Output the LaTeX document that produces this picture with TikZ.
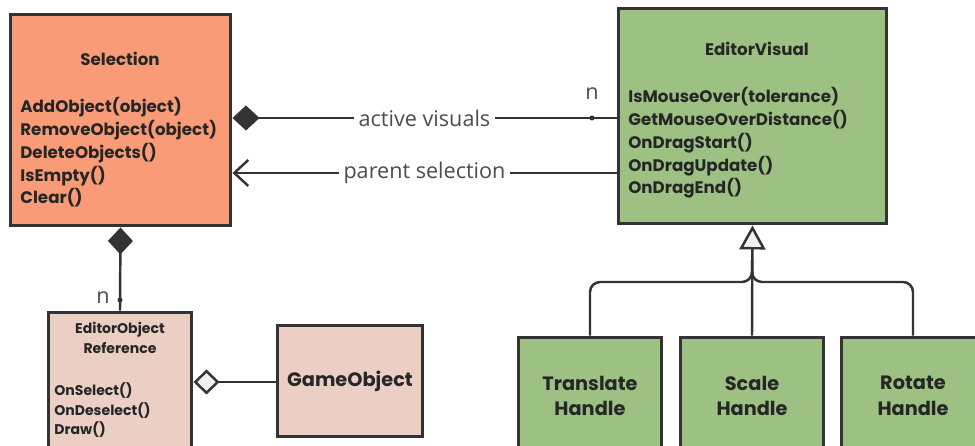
\documentclass[tikz,border=0pt]{standalone}
\usepackage{fontspec}
\setmainfont{Poppins}
\newfontfamily\lblfont{Open Sans}
\usetikzlibrary{arrows.meta, positioning, calc}
\definecolor{selfill}{HTML}{F89B76}
\definecolor{visfill}{HTML}{9DC183}
\definecolor{reffill}{HTML}{EBCFC5}
\definecolor{linecol}{HTML}{333333}
\definecolor{txtcol}{HTML}{262626}
\definecolor{lblcol}{HTML}{4D4D4D}
\begin{document}
\begin{tikzpicture}[
  x=0.02cm, y=-0.02cm,
  box/.style={draw=linecol, line width=1.7pt, inner sep=0pt},
  title/.style={font=\bfseries\fontsize{9.5}{12}\selectfont, text=txtcol, align=center, inner sep=0pt},
  meth/.style={font=\bfseries\fontsize{9.5}{13}\selectfont, text=txtcol, align=left, inner sep=0pt, anchor=north west},
  small/.style={font=\bfseries\fontsize{8}{11.3}\selectfont, text=txtcol, inner sep=0pt},
  big/.style={font=\bfseries\fontsize{11}{14.7}\selectfont, text=txtcol, align=center, inner sep=0pt},
  conn/.style={draw=linecol, line width=1.4pt},
  lbl/.style={font=\lblfont\fontsize{12.3}{14}\selectfont, text=lblcol, fill=white, inner sep=2.5pt},
  card/.style={font=\lblfont\fontsize{12.3}{14}\selectfont, text=lblcol, inner sep=0pt},
  comp/.style={conn, {Diamond[length=0.54cm, width=0.5cm, fill=linecol]}-},
  agg/.style={conn, {Diamond[length=0.52cm, width=0.5cm, fill=black!6]}-},
  nav/.style={conn, {Straight Barb[length=0.28cm, width=0.52cm]}-},
  inh/.style={conn, -{Triangle[length=0.48cm, width=0.52cm, fill=black!6]}}
]
\clip (0,0) rectangle (975,446);
\fill[white] (0,0) rectangle (975,446);

\node[box, fill=selfill, minimum width=4.42cm, minimum height=4.24cm] (sel) at (120.5,120) {};
\node[title] (selT) at (120,59) {Selection};
\node[meth] (selM) at (20,97) {AddObject(object)\\RemoveObject(object)\\DeleteObjects()\\IsEmpty()\\Clear()};

\node[box, fill=visfill, minimum width=5.38cm, minimum height=4.32cm] (vis) at (752.5,116) {};
\node[title] (visT) at (757,49) {EditorVisual};
\node[meth] (visM) at (628,87) {IsMouseOver(tolerance)\\GetMouseOverDistance()\\OnDragStart()\\OnDragUpdate()\\OnDragEnd()};

\node[box, fill=reffill, minimum width=2.88cm, minimum height=3.16cm] (eor) at (120,391) {};
\node[small, align=center] (eorT) at (120,338) {EditorObject\\Reference};
\node[small, align=left, anchor=north west] (eorM) at (54,382) {OnSelect()\\OnDeselect()\\Draw()};

\node[box, fill=reffill, minimum width=2.92cm, minimum height=2.24cm] (go) at (350,381) {};
\node[big] (goT) at (go) {GameObject};

\node[box, fill=visfill, minimum width=2.88cm, minimum height=2.66cm] (th) at (590,403.5) {};
\node[box, fill=visfill, minimum width=2.88cm, minimum height=2.66cm] (sh) at (752,403.5) {};
\node[box, fill=visfill, minimum width=2.88cm, minimum height=2.66cm] (rh) at (913,403.5) {};
\node[big] (thT) at (590,396) {Translate\\Handle};
\node[big] (shT) at (752,396) {Scale\\Handle};
\node[big] (rhT) at (913,396) {Rotate\\Handle};

\coordinate (n1) at (592,118);
\coordinate (n2) at (120,300);
\coordinate (jn) at (752,282);

\draw[comp] (sel.east |- n1) -- node[lbl] {active visuals} (vis.west |- n1);
\fill[linecol] (n1) circle (0.05cm);
\node[card] at (592,94) {n};

\draw[nav] ([yshift=-1.14cm]vis.west -| sel.east) -- node[lbl] {parent selection} ([yshift=-1.14cm]vis.west);

\draw[comp] (sel.south) -- (eor.north);
\fill[linecol] (n2) circle (0.05cm);
\node[card] at (103,298) {n};

\draw[agg] (eor.east |- 0,382) -- (go.west |- 0,382);

\draw[inh] (sh.north) -- (vis.south);
\draw[conn, rounded corners=0.2cm] (th.north) |- (jn) -- ($(jn)+(0,-22)$);
\draw[conn, rounded corners=0.2cm] (rh.north) |- (jn) -- ($(jn)+(0,-22)$);
\end{tikzpicture}
\end{document}
